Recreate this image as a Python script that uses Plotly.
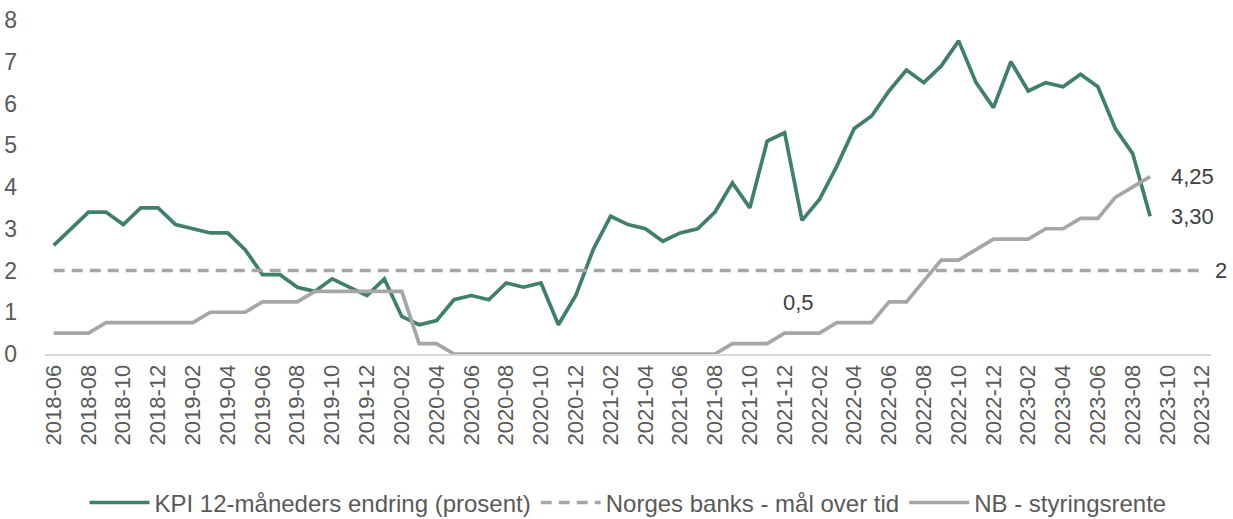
import pandas as pd
import plotly.graph_objects as go

# monthly categories, 2018-06 .. 2023-12
months = [str(p) for p in pd.period_range("2018-06", "2023-12", freq="M")]
tick_months = months[::2]

# KPI 12-month change (percent), 2018-06 .. 2023-09
kpi = [
    2.6, 3.0, 3.4, 3.4, 3.1, 3.5, 3.5,
    3.1, 3.0, 2.9, 2.9, 2.5, 1.9, 1.9, 1.6, 1.5, 1.8, 1.6, 1.4,
    1.8, 0.9, 0.7, 0.8, 1.3, 1.4, 1.3, 1.7, 1.6, 1.7, 0.7, 1.4,
    2.5, 3.3, 3.1, 3.0, 2.7, 2.9, 3.0, 3.4, 4.1, 3.5, 5.1, 5.3,
    3.2, 3.7, 4.5, 5.4, 5.7, 6.3, 6.8, 6.5, 6.9, 7.5, 6.5, 5.9,
    7.0, 6.3, 6.5, 6.4, 6.7, 6.4, 5.4, 4.8, 3.3,
]

# Norges Bank policy rate, 2018-06 .. 2023-09
rate = [
    0.5, 0.5, 0.5, 0.75, 0.75, 0.75, 0.75,
    0.75, 0.75, 1.0, 1.0, 1.0, 1.25, 1.25, 1.25, 1.5, 1.5, 1.5, 1.5,
    1.5, 1.5, 0.25, 0.25, 0, 0, 0, 0, 0, 0, 0, 0,
    0, 0, 0, 0, 0, 0, 0, 0, 0.25, 0.25, 0.25, 0.5,
    0.5, 0.5, 0.75, 0.75, 0.75, 1.25, 1.25, 1.75, 2.25, 2.25, 2.5, 2.75,
    2.75, 2.75, 3.0, 3.0, 3.25, 3.25, 3.75, 4.0, 4.25,
]

# inflation target, whole period
target = [2] * len(months)

GREEN = "#40806A"
GREY = "#A6A6A6"
FONT = "Liberation Sans, Arial, sans-serif"

fig = go.Figure()
fig.add_trace(go.Scatter(
    x=months[:len(kpi)], y=kpi, mode="lines",
    name="KPI 12-måneders endring (prosent)",
    line=dict(color=GREEN, width=3.7),
))
fig.add_trace(go.Scatter(
    x=months, y=target, mode="lines",
    name="Norges banks - mål over tid",
    line=dict(color=GREY, width=3.7, dash="11px,7px"),
))
fig.add_trace(go.Scatter(
    x=months[:len(rate)], y=rate, mode="lines",
    name="NB - styringsrente",
    line=dict(color=GREY, width=3.7),
))

labels = [
    (months[len(rate) - 1], rate[-1], "4,25", 20),
    (months[len(kpi) - 1], kpi[-1], "3,30", 20),
    (months[-1], target[-1], "2", 12),
]
for x, y, txt, shift in labels:
    fig.add_annotation(x=x, y=y, text=txt, showarrow=False, xanchor="left",
                       xshift=shift, borderpad=0,
                       font=dict(size=22, color="#404040"))
fig.add_annotation(x="2021-12", y=1.23, text="0,5", showarrow=False,
                   xshift=14, font=dict(size=22, color="#404040"))

fig.update_layout(
    width=1233, height=519,
    margin=dict(l=45, r=22, t=20, b=165),
    paper_bgcolor="white", plot_bgcolor="white",
    font=dict(family=FONT, size=22, color="#595959"),
    showlegend=True,
    legend=dict(orientation="h", x=0.5, xanchor="center",
                yref="container", y=0.031, yanchor="middle",
                font=dict(size=24, color="#595959"), itemwidth=60),
)
fig.update_xaxes(
    type="category", categoryorder="array", categoryarray=months,
    range=[-0.5, len(months) - 0.5],
    tickvals=tick_months, ticktext=tick_months, tickangle=-90,
    tickfont=dict(size=22, color="#595959"),
    showgrid=False, zeroline=False,
    showline=True, linecolor="#D9D9D9", linewidth=2,
    ticks="", automargin=False,
)
fig.update_yaxes(
    range=[0, 8], dtick=1, showgrid=False, zeroline=False, showline=False,
    tickfont=dict(size=23, color="#595959"),
    ticks="", ticklabelstandoff=27, automargin=False,
)

# page body has a default 8px margin; drop it so the chart fills the window
fig.write_html("out.html", config={"displayModeBar": False},
               post_script="document.body.style.margin = '0';")
